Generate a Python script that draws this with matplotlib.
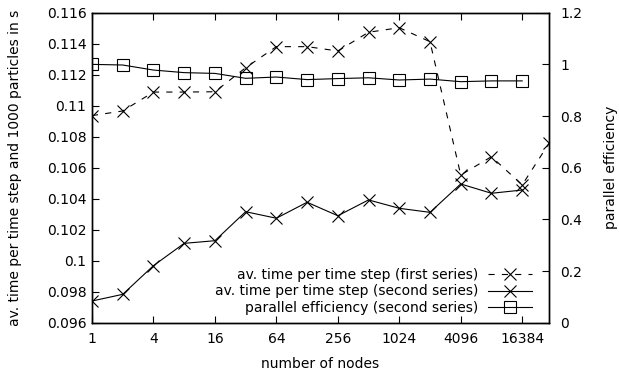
import matplotlib
matplotlib.use("Agg")
import matplotlib.pyplot as plt
from matplotlib.ticker import FixedLocator, NullLocator

# number of nodes (last point of the first series is past 16384)
nodes_first = [1, 2, 4, 8, 16, 32, 64, 128, 256, 512, 1024, 2048, 4096, 8192, 16384, 30000]
nodes_second = [1, 2, 4, 8, 16, 32, 64, 128, 256, 512, 1024, 2048, 4096, 8192, 16384]

time_first = [0.10936, 0.10966, 0.11088, 0.11088, 0.1109, 0.11245, 0.11381, 0.11381,
              0.11353, 0.11474, 0.11503, 0.11413, 0.10553, 0.10671, 0.10489, 0.10757]
time_second = [0.0974, 0.09783, 0.09968, 0.10112, 0.10129, 0.10316, 0.10274, 0.10377,
               0.1029, 0.10392, 0.10338, 0.10312, 0.10495, 0.10435, 0.10456]
efficiency = [1.0, 0.9975, 0.978, 0.968, 0.965, 0.946, 0.951, 0.941,
              0.945, 0.948, 0.9395, 0.943, 0.933, 0.936, 0.936]

x_ticks = [1, 4, 16, 64, 256, 1024, 4096, 16384]
y_ticks = [0.096, 0.098, 0.1, 0.102, 0.104, 0.106, 0.108, 0.11, 0.112, 0.114, 0.116]
y_tick_labels = ["0.096", "0.098", "0.1", "0.102", "0.104", "0.106", "0.108", "0.11", "0.112", "0.114", "0.116"]
y2_ticks = [0, 0.2, 0.4, 0.6, 0.8, 1.0, 1.2]
y2_tick_labels = ["0", "0.2", "0.4", "0.6", "0.8", "1", "1.2"]

plt.rcParams["font.family"] = ["DejaVu Sans"]
plt.rcParams["font.size"] = 10

fig = plt.figure(figsize=(6.19, 3.76), dpi=100)
ax = fig.add_axes([92 / 619, 1 - 322.7 / 376, 457 / 619, 310 / 376])
ax2 = ax.twinx()

l1, = ax.plot(nodes_first, time_first, color="black", lw=0.8, ls=(0, (5.5, 6.5)),
              marker="x", ms=9, mew=0.8, label="av. time per time step (first series)")
l2, = ax.plot(nodes_second, time_second, color="black", lw=0.8,
              marker="x", ms=9, mew=0.8, label="av. time per time step (second series)")
l3, = ax2.plot(nodes_second, efficiency, color="black", lw=0.8,
               marker="s", ms=8, mew=0.8, mfc="none", label="parallel efficiency (second series)")

ax.set_xscale("log", base=2)
ax.set_xlim(1, 30000)
ax.set_ylim(0.096, 0.116)
ax2.set_ylim(0, 1.2)

ax.xaxis.set_major_locator(FixedLocator(x_ticks))
ax.xaxis.set_minor_locator(NullLocator())
ax.set_xticklabels([str(v) for v in x_ticks])
ax.set_yticks(y_ticks)
ax.set_yticklabels(y_tick_labels)
ax2.set_yticks(y2_ticks)
ax2.set_yticklabels(y2_tick_labels)

ax.tick_params(axis="x", direction="in", top=True, length=5, width=0.8, pad=7)
ax.tick_params(axis="y", direction="in", right=False, length=5, width=0.8, pad=4)
ax2.tick_params(axis="y", direction="in", length=5, width=0.8, pad=8)
for a in (ax, ax2):
    for s in a.spines.values():
        s.set_linewidth(1.0)

ax.set_xlabel("number of nodes", labelpad=7.5)
ax.set_ylabel("av. time per time step and 1000 particles in s", labelpad=17.5)
ax2.set_ylabel("parallel efficiency", labelpad=16)

leg = ax2.legend(handles=[l1, l2, l3], loc="lower right", bbox_to_anchor=(0.963, 0.025),
                 markerfirst=False, frameon=False, borderpad=0, borderaxespad=0,
                 handlelength=3.15, handletextpad=0.72, labelspacing=0.18)

fig.savefig("out.png", dpi=100)
